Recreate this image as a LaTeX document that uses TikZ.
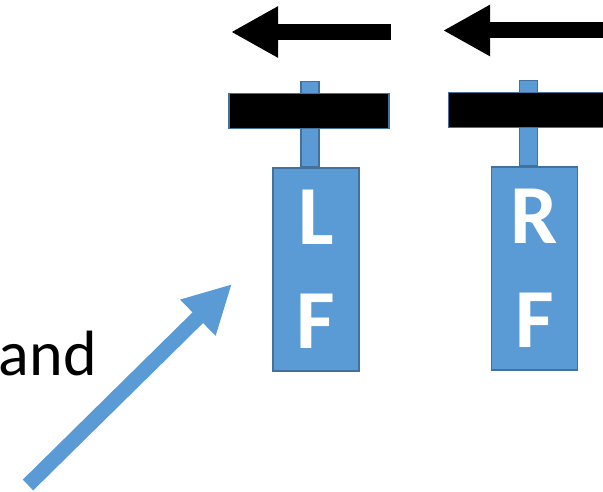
\documentclass[tikz,border=0pt]{standalone}
\usepackage{fontspec}
\setmainfont{Carlito}
\usetikzlibrary{positioning,arrows.meta}

\definecolor{boxblue}{HTML}{5B9BD5}
\definecolor{edgeblue}{HTML}{41719C}

\tikzset{
  body/.style={rectangle, draw=edgeblue, fill=boxblue, line width=1.5pt,
    minimum width=86pt, minimum height=203pt, inner sep=0pt, align=center,
    text=white, font=\fontsize{84}{104}\selectfont\bfseries},
  stem/.style={rectangle, draw=edgeblue, fill=boxblue, line width=1.5pt,
    minimum width=18pt, minimum height=85pt, inner sep=0pt},
  bar/.style={rectangle, draw=edgeblue, fill=black, line width=1.5pt,
    minimum width=160pt, minimum height=35pt, inner sep=0pt},
  push/.style={line width=16pt, black, -{Triangle[length=47pt,width=48pt]}},
  lift/.style={line width=15pt, boxblue, -{Triangle[length=48pt,width=47pt]}}
}

\begin{document}
\begin{tikzpicture}[x=1pt,y=-1pt]
\useasboundingbox (0,0) rectangle (603,492);
\clip (0,0) rectangle (603,492);

% the two blocks
\node[body] (lf) at (316,269.5) {L\\F};
\node[body] (rf) at (534.5,268.5) {R\\F};

% stems go first so the bars sit on top
\node[stem, anchor=south] (lf_stem) at ([xshift=-6pt]lf.north) {};
\node[stem, anchor=south] (rf_stem) at ([xshift=-6pt]rf.north) {};
\node[bar, anchor=south] (lf_bar) at ([xshift=-1pt,yshift=38pt]lf_stem.south) {};
\node[bar, anchor=south] (rf_bar) at ([yshift=38pt]rf_stem.south) {};

% pushing arrows on top
\coordinate (l_tail) at (391,32);
\coordinate (l_tip)  at (231,32);
\coordinate (r_tail) at (620,30.5);
\coordinate (r_tip)  at (443,30.5);
\draw[push] (l_tail) -- (l_tip);
\draw[push] (r_tail) -- (r_tip);

% text and rising arrow
\node[anchor=base east, inner sep=0pt, font=\fontsize{64}{76}\selectfont] (txt) at (97,375) {and};
\coordinate (up_tail) at (28,485);
\coordinate (up_tip)  at (232,284);
\draw[lift] (up_tail) -- (up_tip);
\end{tikzpicture}
\end{document}
